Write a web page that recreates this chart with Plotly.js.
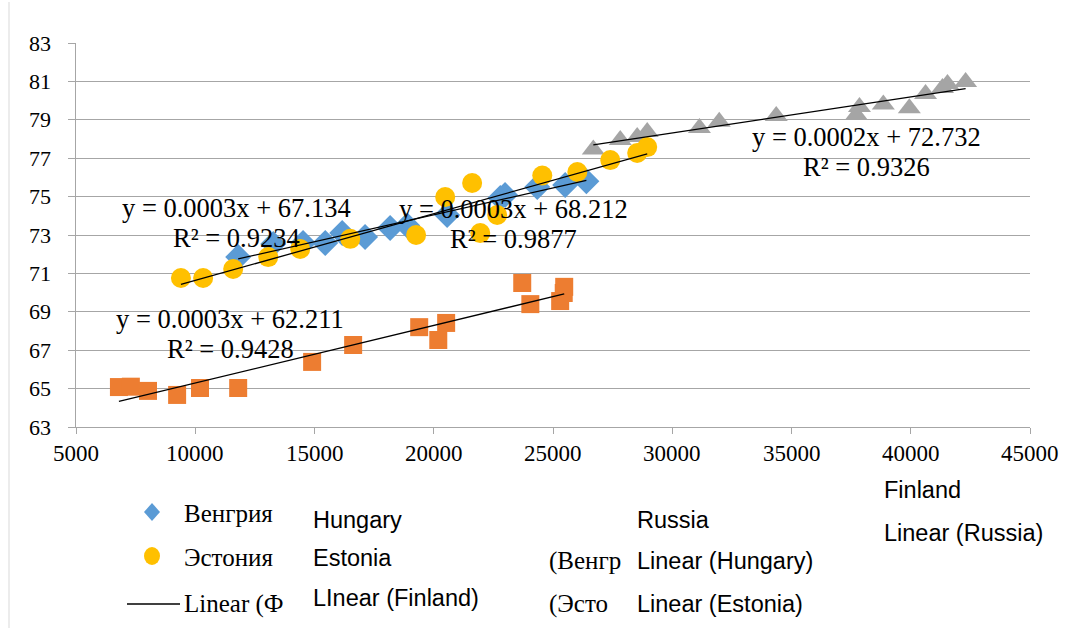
<!DOCTYPE html>
<html>
<head>
<meta charset="utf-8">
<script src="https://cdn.plot.ly/plotly-3.0.1.min.js"></script>
<style>html,body{margin:0;padding:0;background:#fff;}#chart{width:1078px;height:630px;}</style>
</head>
<body>
<div id="chart"></div>
<script>
// ---- data (GDP per capita vs life expectancy) ----
const russiaX  = [6800,7300,8020,9240,10200,11800,14900,16620,19390,20190,20520,23710,24050,25300,25470,25450];
const russiaY  = [65.08,65.10,64.88,64.67,65.03,65.03,66.39,67.27,68.20,67.53,68.42,70.50,69.40,69.56,70.30,69.98];

const hungaryX = [11800,13270,14520,15450,16160,17120,18170,18890,20560,22790,22990,24340,25510,26400];
const hungaryY = [71.85,72.53,72.58,72.58,73.10,72.90,73.36,73.50,74.04,74.93,75.08,75.50,75.60,75.80];

const estoniaX = [9400,10330,11590,13060,14400,16500,19260,20480,21610,21950,22660,24550,26020,27400,28530,28950];
const estoniaY = [70.76,70.76,71.23,71.85,72.27,72.80,73.00,74.98,75.71,73.10,74.04,76.10,76.28,76.90,77.27,77.58];

const finlandX = [26690,27820,28530,28950,31140,31970,34360,37720,37850,38850,39940,40620,41330,41540,42300];
const finlandY = [77.45,77.95,78.10,78.36,78.57,78.90,79.20,79.25,79.67,79.80,79.60,80.34,80.66,80.86,80.97];

const equations = {
  hungary: ["y = 0.0003x + 67.134", "R² = 0.9234"],
  estonia: ["y = 0.0003x + 68.212", "R² = 0.9877"],
  finland: ["y = 0.0002x + 72.732", "R² = 0.9326"],
  russia:  ["y = 0.0003x + 62.211", "R² = 0.9428"]
};

const xTicks = [5000,10000,15000,20000,25000,30000,35000,40000,45000];
const yTicks = [63,65,67,69,71,73,75,77,79,81,83];

// ---- helpers ----
function fit(xs, ys) {
  const n = xs.length;
  let sx=0, sy=0, sxx=0, sxy=0;
  for (let i=0;i<n;i++){ sx+=xs[i]; sy+=ys[i]; sxx+=xs[i]*xs[i]; sxy+=xs[i]*ys[i]; }
  const b = (n*sxy - sx*sy)/(n*sxx - sx*sx);
  const a = (sy - b*sx)/n;
  const x0 = Math.min(...xs), x1 = Math.max(...xs);
  return {x:[x0,x1], y:[a+b*x0, a+b*x1]};
}
const PL=76, PR=1030, PT=43, PB=427;
const px = x => (x-PL)/(PR-PL);
const py = y => (PB-y)/(PB-PT);

const SERIF = "Liberation Serif";
const SANS = "Liberation Sans";

const colors = {hungary:'#5b9bd5', estonia:'#ffc000', russia:'#ed7d31', finland:'#a5a5a5'};

const traces = [
  {x:russiaX, y:russiaY, mode:'markers', type:'scatter', name:'Russia',
   marker:{symbol:'square', size:18, color:colors.russia}},
  {x:finlandX, y:finlandY, mode:'markers', type:'scatter', name:'Finland',
   marker:{symbol:'triangle-up', size:20, color:colors.finland}},
  {x:hungaryX, y:hungaryY, mode:'markers', type:'scatter', name:'Венгрия',
   marker:{symbol:'diamond', size:20, color:colors.hungary}},
  {x:estoniaX, y:estoniaY, mode:'markers', type:'scatter', name:'Эстония',
   marker:{symbol:'circle', size:20, color:colors.estonia}}
];
[[russiaX,russiaY],[finlandX,finlandY],[hungaryX,hungaryY],[estoniaX,estoniaY]].forEach(([xs,ys])=>{
  const f = fit(xs,ys);
  traces.push({x:f.x, y:f.y, mode:'lines', type:'scatter', line:{color:'#000', width:1.3}, hoverinfo:'skip'});
});

const annotations = [];
// axis tick labels (serif), placed through the axes' own scales
xTicks.forEach(v => annotations.push({x:v, y:py(453), xref:'x', yref:'paper', text:String(v),
  showarrow:false, xanchor:'center', yanchor:'middle', font:{family:SERIF, size:23, color:'#000'}}));
yTicks.forEach(v => annotations.push({x:px(53), y:v, xref:'paper', yref:'y', text:String(v),
  showarrow:false, xanchor:'right', yanchor:'middle', font:{family:SERIF, size:22, color:'#000'}}));

function eq(lines, xData, y1, y2){
  annotations.push({x:xData, y:y1, xref:'x', yref:'y', text:lines[0], showarrow:false,
    xanchor:'center', yanchor:'middle', font:{family:SERIF, size:26.5, color:'#000'}});
  annotations.push({x:xData, y:y2, xref:'x', yref:'y', text:lines[1], showarrow:false,
    xanchor:'center', yanchor:'middle', font:{family:SERIF, size:26.5, color:'#000'}});
}
const xv = p => 5000 + (p-PL)*40000/(PR-PL);
const yv = p => 83 - (p-PT)*20/(PB-PT);
eq(equations.hungary, xv(236), yv(208), yv(238));
eq(equations.estonia, xv(513), yv(209), yv(239));
eq(equations.finland, xv(866), yv(137), yv(167));
eq(equations.russia,  xv(230), yv(319), yv(349));

function lab(text, x, y, font){
  annotations.push({x:px(x), y:py(y), xref:'paper', yref:'paper', text:text, showarrow:false,
    xanchor:'left', yanchor:'middle', font:font});
}
const fSerif = {family:SERIF, size:25, color:'#000'};
const fSans = {family:SANS, size:23.5, color:'#000'};
lab('Венгрия', 182, 513, fSerif);
lab('Hungary', 311, 520, fSans);
lab('Russia', 635, 520, fSans);
lab('Finland', 882, 490, fSans);
lab('Linear (Russia)', 882, 533, fSans);
lab('Эстония', 182, 557, fSerif);
lab('Estonia', 311, 558, fSans);
lab('(Венгр', 547, 561, fSerif);
lab('Linear (Hungary)', 635, 561, fSans);
lab('Linear (Ф', 182, 604, fSerif);
lab('LInear (Finland)', 311, 598, fSans);
lab('(Эсто', 547, 604, fSerif);
lab('Linear (Estonia)', 635, 604, fSans);

const shapes = [
  {type:'path', xref:'paper', yref:'paper', xsizemode:'pixel', ysizemode:'pixel',
   xanchor:px(152), yanchor:py(512), path:'M0,9 L8,0 L0,-9 L-8,0 Z',
   fillcolor:colors.hungary, line:{width:0}},
  {type:'circle', xref:'paper', yref:'paper', xsizemode:'pixel', ysizemode:'pixel',
   xanchor:px(152), yanchor:py(556), x0:-8, x1:8, y0:-9, y1:9,
   fillcolor:colors.estonia, line:{width:0}},
  {type:'line', xref:'paper', yref:'paper', x0:px(127), x1:px(180), y0:py(604), y1:py(604),
   line:{color:'#404040', width:2}},
  {type:'line', xref:'paper', yref:'paper', x0:px(9), x1:px(9), y0:py(2), y1:py(628),
   line:{color:'#d9d9d9', width:1}}
];

const layout = {
  width:1078, height:630,
  margin:{l:PL, r:1078-PR, t:PT, b:630-PB, pad:0},
  paper_bgcolor:'#fff', plot_bgcolor:'#fff', showlegend:false,
  xaxis:{range:[5000,45000], tickmode:'array', tickvals:xTicks, showticklabels:false,
    showgrid:false, zeroline:false, showline:true, linecolor:'#a6a6a6', linewidth:1,
    ticks:'outside', ticklen:6, tickcolor:'#a6a6a6', fixedrange:true},
  yaxis:{range:[63,83], tickmode:'array', tickvals:yTicks, showticklabels:false,
    showgrid:true, gridcolor:'#a6a6a6', gridwidth:1, zeroline:false,
    showline:true, linecolor:'#a6a6a6', linewidth:1,
    ticks:'outside', ticklen:7, tickcolor:'#a6a6a6', fixedrange:true},
  annotations:annotations,
  shapes:shapes
};

Plotly.newPlot('chart', traces, layout, {displayModeBar:false, staticPlot:true});
</script>
</body>
</html>
